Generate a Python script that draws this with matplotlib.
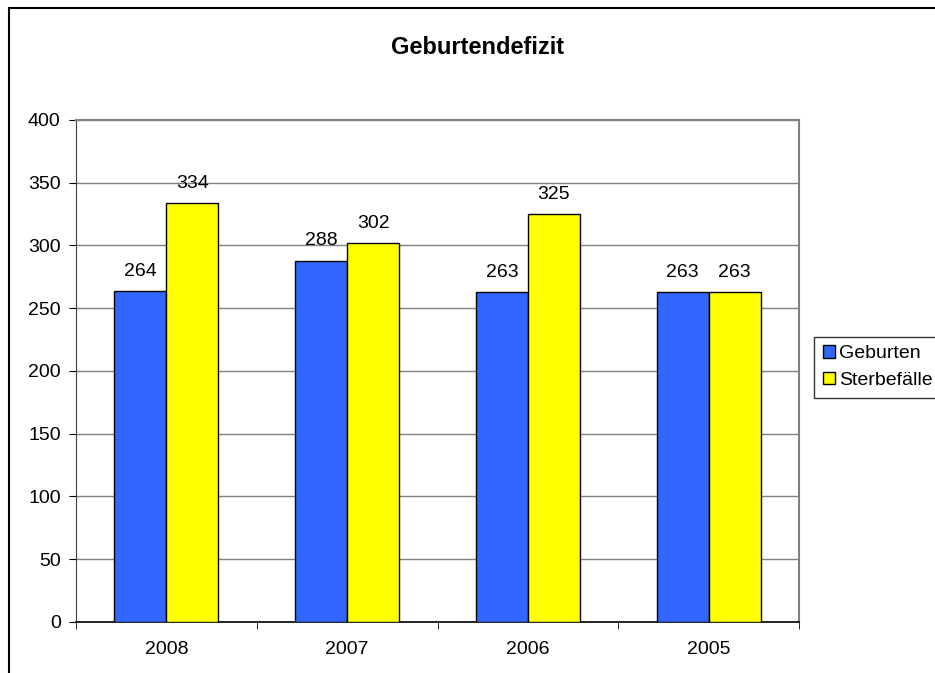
import numpy as np
import matplotlib
matplotlib.use('Agg')
import matplotlib.pyplot as plt
from matplotlib.lines import Line2D

years = ['2008', '2007', '2006', '2005']
geburten = [264, 288, 263, 263]
sterbefaelle = [334, 302, 325, 263]
series_names = ['Geburten', 'Sterbefälle']

plt.rcParams['font.family'] = ['Liberation Sans', 'DejaVu Sans']

fig = plt.figure(figsize=(9.35, 6.73), dpi=100)
ax = fig.add_axes([0.0813, 0.0758, 0.7733, 0.7459])

x = np.arange(len(years))
w = 0.288
b1 = ax.bar(x - w / 2, geburten, w, color='#3366FF', edgecolor='black', linewidth=1, zorder=3, label=series_names[0])
b2 = ax.bar(x + w / 2, sterbefaelle, w, color='#FFFF00', edgecolor='black', linewidth=1, zorder=3, label=series_names[1])
ax.bar_label(b1, padding=8, fontsize=14)
ax.bar_label(b2, padding=8, fontsize=14)

ax.set_xlim(-0.5, len(years) - 0.5)
ax.set_ylim(0, 400)
ax.set_yticks(range(0, 401, 50))
ax.set_xticks(x)
ax.set_xticklabels(years)
ax.set_xticks(np.arange(-0.5, len(years)), minor=True)
ax.tick_params(axis='x', which='major', length=0, labelsize=14, pad=14)
ax.tick_params(axis='x', which='minor', length=5, direction='out')
ax.tick_params(axis='y', length=5, direction='out', labelsize=14, pad=6)
ax.yaxis.grid(True, color='#808080', linewidth=1, zorder=0)

for side in ['top', 'right']:
    ax.spines[side].set_color('#808080')
    ax.spines[side].set_linewidth(1.5)
ax.spines['left'].set_color('#404040')
ax.spines['bottom'].set_color('black')
ax.spines['bottom'].set_linewidth(1.2)

fig.text(0.511, 0.930, 'Geburtendefizit', ha='center', va='center', fontsize=17, fontweight='bold')

# outer chart frame (right and bottom edges are cut off in the original)
fig.add_artist(Line2D([0.0096, 0.0096], [0, 0.988], transform=fig.transFigure, color='black', linewidth=1.5))
fig.add_artist(Line2D([0.0096, 1.0], [0.988, 0.988], transform=fig.transFigure, color='black', linewidth=1.5))

leg = fig.legend(handles=[b1, b2], labels=series_names, loc='upper left',
                 bbox_to_anchor=(0.871, 0.500), frameon=True, fancybox=False,
                 fontsize=14, handlelength=0.6, handleheight=0.6, handletextpad=0.2,
                 borderpad=0.45, labelspacing=0.5, borderaxespad=0)
leg.get_frame().set_edgecolor('black')
leg.get_frame().set_linewidth(1)

fig.savefig('out.png', dpi=100)
